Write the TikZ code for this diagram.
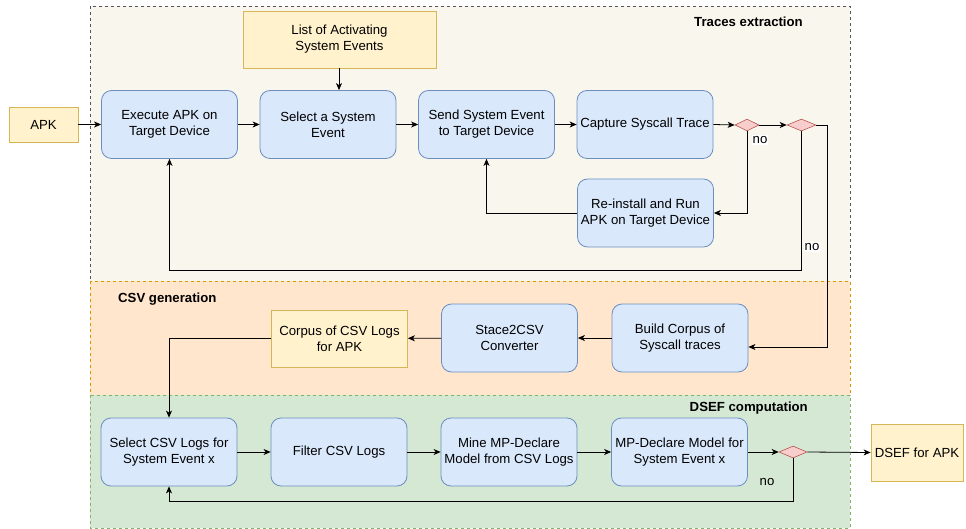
\documentclass[tikz,border=0pt]{standalone}
\usepackage{fontspec}
\setmainfont{Liberation Sans}
\usetikzlibrary{arrows.meta,shapes.geometric}
\definecolor{bluef}{HTML}{DAE8FC}
\definecolor{blued}{HTML}{6C8EBF}
\definecolor{yelf}{HTML}{FFF2CC}
\definecolor{yeld}{HTML}{D6B656}
\definecolor{redf}{HTML}{F8CECC}
\definecolor{redd}{HTML}{B85450}
\definecolor{tracef}{HTML}{F9F7ED}
\definecolor{traced}{HTML}{555555}
\definecolor{csvf}{HTML}{FFE6CC}
\definecolor{csvd}{HTML}{D79B00}
\definecolor{dsef}{HTML}{D5E8D4}
\definecolor{dsed}{HTML}{82B366}
\begin{document}
\begin{tikzpicture}[x=1pt,y=-1pt,
  font=\fontsize{13.2}{16}\selectfont,
  proc/.style={draw=blued,fill=bluef,rounded corners=10pt,minimum width=136pt,minimum height=68pt,align=center,inner sep=0pt,line width=0.8pt},
  datab/.style={draw=yeld,fill=yelf,align=center,inner sep=0pt,line width=0.8pt},
  decis/.style={diamond,draw=redd,fill=redf,inner sep=0pt,minimum width=26pt,minimum height=12pt,line width=0.6pt},
  conn/.style={draw,line width=0.8pt,-{Stealth[length=7pt,width=6pt,inset=2pt]}},
  lbl/.style={font=\fontsize{13.2}{16}\selectfont\bfseries,inner sep=0pt},
  nolbl/.style={fill=white,inner sep=1pt},
  region/.style={dashed,dash pattern=on 3pt off 3pt,line width=0.6pt}]
\useasboundingbox (0,0) rectangle (966,529);
% regions
\draw[region,fill=tracef,draw=traced] (90,6) rectangle (850,281);
\draw[region,fill=csvf,draw=csvd] (90,281) rectangle (850,395);
\draw[region,fill=dsef,draw=dsed] (90,395) rectangle (850,528);
\node[lbl,anchor=east] (tl) at (803,22) {Traces extraction};
\node[lbl,anchor=west] (cl) at (118,299) {CSV generation};
\node[lbl,anchor=east] (dl) at (808,408) {DSEF computation};
% nodes
\node[datab,minimum width=69pt,minimum height=35pt] (apk) at (43.5,124.5) {APK};
\node[datab,minimum width=193pt,minimum height=57pt] (list) at (339.5,39.5) {List of Activating\\System Events};
\node[proc] (exec) at (169.5,124.5) {Execute APK on\\Target Device};
\node[proc] (sel) at (328,124.5) {Select a System\\Event};
\node[proc] (send) at (486.5,124.5) {Send System Event\\to Target Device};
\node[proc] (capt) at (645,124.5) {Capture Syscall Trace};
\node[decis,minimum width=24pt] (d1) at (747,125) {};
\node[decis,minimum width=29pt] (d2) at (801.5,125) {};
\node[proc] (re) at (645.5,213) {Re-install and Run\\APK on Target Device};
\node[proc] (build) at (680,338) {Build Corpus of\\Syscall traces};
\node[proc] (conv) at (509.5,338) {Stace2CSV\\Converter};
\node[datab,minimum width=136pt,minimum height=57pt] (corp) at (339.5,338.5) {Corpus of CSV Logs\\for APK};
\node[proc] (selc) at (169,452) {Select CSV Logs for\\System Event x};
\node[proc] (filt) at (339,452) {Filter CSV Logs};
\node[proc] (mine) at (509,452) {Mine MP-Declare\\Model from CSV Logs};
\node[proc] (mpd) at (679.5,452) {MP-Declare Model for\\System Event x};
\node[decis,minimum width=28pt] (d3) at (793,452) {};
\node[datab,minimum width=92pt,minimum height=57pt] (dsefn) at (917,452.5) {DSEF for APK};
% connectors
\draw[conn] (apk) -- (exec);
\draw[conn] (list.south -| sel.north) ++(11,0) coordinate (lt) -- (lt |- sel.north);
\draw[conn] (exec) -- (sel);
\draw[conn] (sel) -- (send);
\draw[conn] (send) -- (capt);
\draw[conn] (capt.east) -- (d1.west);
\draw[conn] (d1.east) -- (d2.west);
\draw[conn] (d1.south) |- (re.east);
\draw[conn] (re.west) -| (send.south);
\draw[conn] (d2.south) -- (801.5,270) -| (exec.south);
\draw[conn] (d2.east) -- (827,125) |- ([yshift=-9pt]build.east);
\draw[conn] (build) -- (conv);
\draw[conn] (conv) -- (corp);
\draw[conn] (corp.west) -| (selc.north);
\draw[conn] (selc) -- (filt);
\draw[conn] (filt) -- (mine);
\draw[conn] (mine) -- (mpd);
\draw[conn] (mpd.east) -- (d3.west);
\draw[conn] (d3.east) -- (dsefn.west);
\draw[conn] (d3.south) -- (793,501) -| (selc.south);
\node[nolbl] (no1) at (760,140) {no};
\node[nolbl] (no2) at (812,247) {no};
\node (no3) at (767,482) {no};
\end{tikzpicture}
\end{document}
